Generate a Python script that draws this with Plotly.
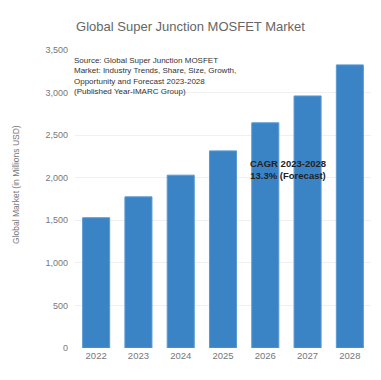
import plotly.graph_objects as go

years = ["2022", "2023", "2024", "2025", "2026", "2027", "2028"]
values = [1530, 1775, 2030, 2315, 2645, 2960, 3325]
y_ticks = [0, 500, 1000, 1500, 2000, 2500, 3000, 3500]
y_tick_labels = ["0", "500", "1,000", "1,500", "2,000", "2,500", "3,000", "3,500"]

title_text = "Global Super Junction MOSFET Market"
y_title = "Global Market (in Millions USD)"
source_text = ("Source: Global Super Junction MOSFET<br>"
               "Market: Industry Trends, Share, Size, Growth,<br>"
               "Opportunity and Forecast 2023-2028<br>"
               "(Published Year-IMARC Group)")
cagr_text = "CAGR 2023-2028<br>13.3% (Forecast)"

fig = go.Figure()
fig.add_trace(go.Bar(
    x=years, y=values,
    marker=dict(color="#3a84c6", line=dict(color="#5a9ad4", width=1)),
))

fig.update_layout(
    width=381, height=380,
    margin=dict(l=75, r=10, t=50, b=32),
    paper_bgcolor="white", plot_bgcolor="white",
    bargap=0.36,
    showlegend=False,
    font=dict(family="Liberation Sans, Arial, sans-serif", color="#555555"),
    title=dict(text=title_text, x=0.5, xanchor="center", y=0.93, yanchor="middle",
               font=dict(size=13, color="#666666")),
    xaxis=dict(tickfont=dict(size=9.5, color="#777777"), showline=False, ticks=""),
    yaxis=dict(range=[0, 3500], tickvals=y_ticks, ticktext=y_tick_labels,
               tickfont=dict(size=9, color="#777777"), ticklabelstandoff=6,
               showgrid=True, gridcolor="#f0f0f0", gridwidth=1,
               zeroline=False, showline=False, ticks=""),
    annotations=[
        dict(text=y_title, xref="paper", yref="paper", x=-0.2, y=0.55,
             xanchor="center", textangle=-90, showarrow=False,
             font=dict(size=8.5, color="#777777")),
        dict(text=source_text, xref="paper", yref="paper", x=-0.01, y=0.985,
             xanchor="left", yanchor="top", align="left", showarrow=False,
             font=dict(size=8, color="#333333")),
        dict(text="<b>" + cagr_text + "</b>", xref="paper", yref="paper", x=0.72, y=0.6,
             xanchor="center", yanchor="middle", align="center", showarrow=False,
             font=dict(size=9.5, color="#222222")),
    ],
)

fig.write_html("out.html")
